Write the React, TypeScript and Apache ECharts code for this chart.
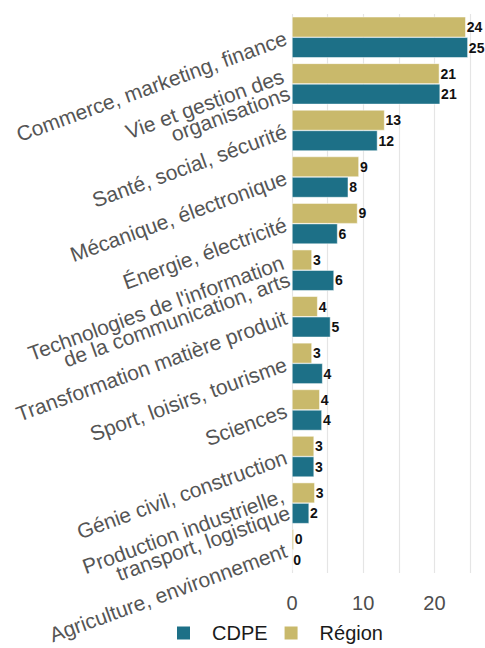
import React, { useEffect, useRef } from "react";
import * as echarts from "echarts";

const categories = [
  "Commerce, marketing, finance",
  "Vie et gestion des\norganisations",
  "Santé, social, sécurité",
  "Mécanique, électronique",
  "Énergie, électricité",
  "Technologies de l'information\nde la communication, arts",
  "Transformation matière produit",
  "Sport, loisirs, tourisme",
  "Sciences",
  "Génie civil, construction",
  "Production industrielle,\ntransport, logistique",
  "Agriculture, environnement",
];
const regionValues = [24.4, 20.7, 13.0, 9.4, 9.2, 2.8, 3.6, 2.8, 3.9, 3.1, 3.2, 0.25];
const cdpeValues = [24.7, 20.8, 12.0, 7.9, 6.4, 5.9, 5.4, 4.3, 4.2, 3.1, 2.4, 0];
const xTicks = [0, 10, 20];

const FONT = "Liberation Sans, Arial, sans-serif";

export default function App() {
  const ref = useRef<HTMLDivElement>(null);
  useEffect(() => {
    if (!ref.current) return;
    const chart = echarts.init(ref.current, null, { renderer: "svg" });
    const label = {
      show: true,
      position: "right",
      distance: 1,
      fontSize: 14,
      fontWeight: "bold",
      color: "#111",
      fontFamily: FONT,
      formatter: (p: any) => String(Math.round(p.value)),
    };
    chart.setOption({
      animation: false,
      textStyle: { fontFamily: FONT },
      grid: { left: 292, right: 15, top: 14, bottom: 75, containLabel: false },
      legend: {
        data: ["CDPE", "Région"],
        left: 170,
        bottom: 0,
        itemWidth: 15,
        itemHeight: 15,
        itemGap: 15,
        icon: "rect",
        textStyle: { fontSize: 20, color: "#1a1a1a", fontFamily: FONT, padding: [0, 0, 0, 16] },
      },
      xAxis: {
        type: "value",
        min: 0,
        max: 25,
        interval: 5,
        axisLine: { show: false },
        axisTick: { show: false },
        splitLine: { show: true, lineStyle: { color: "#e5e5e5", width: 1.2 } },
        axisLabel: {
          fontSize: 20,
          color: "#4d4d4d",
          margin: 20,
          fontFamily: FONT,
          formatter: (v: number) => (xTicks.includes(v) ? String(v) : ""),
        },
      },
      yAxis: {
        type: "category",
        inverse: true,
        data: categories,
        axisLine: { show: false },
        axisTick: { show: false },
        axisLabel: {
          rotate: 20,
          fontSize: 21,
          lineHeight: 18,
          color: "#555555",
          margin: 6,
          align: "right",
          fontFamily: FONT,
        },
      },
      series: [
        {
          name: "Région",
          type: "bar",
          data: regionValues,
          barGap: "0%",
          barCategoryGap: "12%",
          itemStyle: { color: "#c9b96b", borderColor: "#ffffff", borderWidth: 0.5 },
          label,
        },
        {
          name: "CDPE",
          type: "bar",
          data: cdpeValues,
          barGap: "0%",
          barCategoryGap: "12%",
          itemStyle: { color: "#1d7087", borderColor: "#ffffff", borderWidth: 0.5 },
          label,
        },
      ],
    });
    return () => chart.dispose();
  }, []);
  return <div ref={ref} style={{ width: 485, height: 648, position: "absolute", left: 0, top: 0 }} />;
}
